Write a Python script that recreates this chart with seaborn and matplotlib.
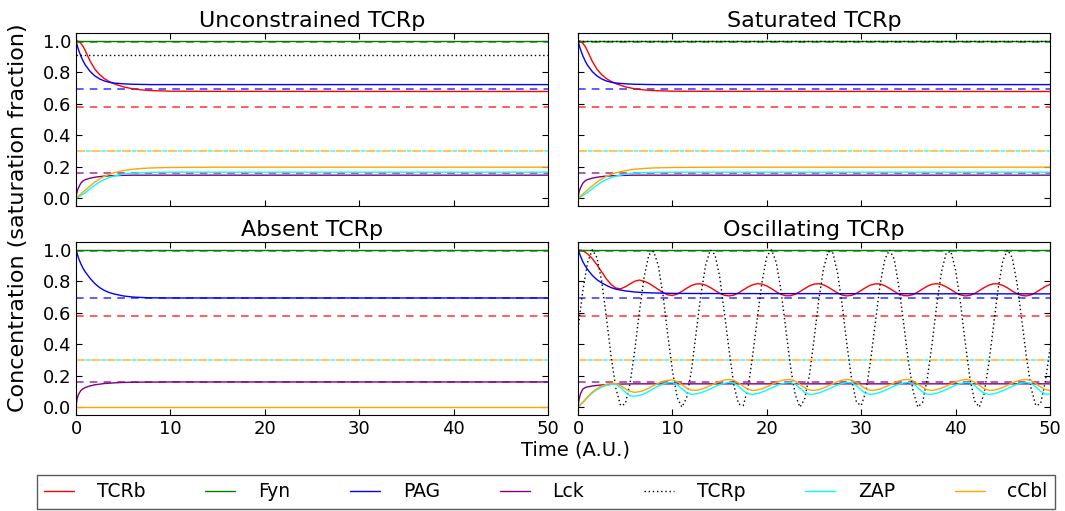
import numpy as np
import pandas as pd
import matplotlib
matplotlib.use("Agg")
import matplotlib.pyplot as plt
import seaborn as sns

species = ["TCRb", "Fyn", "PAG", "Lck", "TCRp", "ZAP", "cCbl"]
colors = {"TCRb": "red", "Fyn": "green", "PAG": "blue", "Lck": "purple",
          "TCRp": "black", "ZAP": "cyan", "cCbl": "orange"}

# steady state levels (dashed reference lines)
steady = {"TCRb": 0.58, "Fyn": 0.99, "PAG": 0.694, "Lck": 0.16, "cCbl": 0.30, "ZAP": 0.30}

# time points for the non-oscillating runs
t_short = [0, 0.1, 0.25, 0.5, 0.75, 1, 1.5, 2, 2.5, 3, 3.5, 4, 5, 6, 7, 8, 10, 15, 50]
ones = [1.0] * len(t_short)
zeros = [0.0] * len(t_short)

# unconstrained / saturated runs
tcrb_free = [1.0, 1.0, 0.997, 0.985, 0.965, 0.935, 0.87, 0.82, 0.785, 0.76, 0.742, 0.728,
             0.708, 0.695, 0.688, 0.684, 0.68, 0.679, 0.678]
pag_free = [1.0, 0.975, 0.945, 0.905, 0.872, 0.845, 0.805, 0.777, 0.758, 0.745, 0.737, 0.732,
            0.727, 0.724, 0.723, 0.722, 0.722, 0.722, 0.722]
lck_free = [0.0, 0.04, 0.065, 0.095, 0.11, 0.118, 0.127, 0.133, 0.137, 0.14, 0.142, 0.143,
            0.145, 0.146, 0.146, 0.146, 0.146, 0.146, 0.146]
zap_free = [0.0, 0.002, 0.007, 0.016, 0.026, 0.036, 0.06, 0.083, 0.103, 0.119, 0.131, 0.14,
            0.153, 0.159, 0.162, 0.164, 0.165, 0.165, 0.165]
ccbl_free = [0.0, 0.004, 0.012, 0.026, 0.039, 0.052, 0.078, 0.102, 0.122, 0.139, 0.151, 0.161,
             0.175, 0.184, 0.189, 0.192, 0.195, 0.197, 0.197]
tcrp_free = [0.91] * len(t_short)

# absent run
pag_abs = [1.0, 0.98, 0.95, 0.912, 0.882, 0.858, 0.818, 0.785, 0.76, 0.742, 0.729, 0.72,
           0.707, 0.70, 0.697, 0.695, 0.694, 0.694, 0.694]
lck_abs = [0.0, 0.05, 0.08, 0.105, 0.117, 0.125, 0.135, 0.142, 0.146, 0.15, 0.152, 0.154,
           0.157, 0.158, 0.159, 0.159, 0.16, 0.16, 0.16]

# oscillating run
t_osc = np.arange(0, 50.5, 0.5)
pag_osc = [1.0, 0.985, 0.96, 0.925, 0.898, 0.875, 0.838, 0.81, 0.79, 0.774, 0.76, 0.75,
           0.739, 0.732, 0.728, 0.726, 0.723, 0.722, 0.72]
lck_osc = [0.0, 0.05, 0.085, 0.115, 0.124, 0.129, 0.134, 0.138, 0.141, 0.143, 0.145, 0.146,
           0.147, 0.148, 0.148, 0.148, 0.148, 0.148, 0.148]
tcrp_osc = [0.50, 0.74, 0.92, 1.00, 0.95, 0.80, 0.57, 0.32, 0.12, 0.01,
            0.02, 0.15, 0.36, 0.61, 0.83, 0.97, 0.99, 0.90, 0.71, 0.46,
            0.23, 0.06, 0.00, 0.06, 0.23, 0.47, 0.71, 0.90, 1.00, 0.97,
            0.83, 0.60, 0.36, 0.14, 0.02, 0.01, 0.12, 0.33, 0.57, 0.80,
            0.96, 1.00, 0.92, 0.74, 0.50, 0.26, 0.08, 0.00, 0.05, 0.20,
            0.43, 0.68, 0.88, 0.99, 0.98, 0.85, 0.64, 0.39, 0.17, 0.03,
            0.01, 0.10, 0.30, 0.54, 0.78, 0.94, 1.00, 0.94, 0.76, 0.53,
            0.29, 0.10, 0.00, 0.03, 0.18, 0.40, 0.65, 0.86, 0.98, 0.99,
            0.87, 0.67, 0.42, 0.19, 0.04, 0.00, 0.08, 0.27, 0.51, 0.75,
            0.93, 1.00, 0.95, 0.79, 0.56, 0.32, 0.12, 0.01, 0.02, 0.16,
            0.37]
tcrb_osc = [1.000, 0.995, 0.975, 0.945, 0.905, 0.860, 0.815, 0.780, 0.757, 0.752,
            0.765, 0.783, 0.800, 0.808, 0.800, 0.787, 0.768, 0.748, 0.728, 0.714,
            0.710, 0.719, 0.736, 0.756, 0.773, 0.783, 0.784, 0.776, 0.761, 0.742,
            0.724, 0.711, 0.707, 0.712, 0.726, 0.745, 0.764, 0.778, 0.785, 0.782,
            0.770, 0.753, 0.733, 0.717, 0.708, 0.708, 0.718, 0.734, 0.753, 0.771,
            0.782, 0.785, 0.778, 0.763, 0.744, 0.726, 0.712, 0.707, 0.711, 0.724,
            0.742, 0.761, 0.777, 0.784, 0.783, 0.772, 0.755, 0.736, 0.719, 0.709,
            0.708, 0.716, 0.732, 0.751, 0.769, 0.781, 0.785, 0.779, 0.765, 0.747,
            0.728, 0.714, 0.707, 0.710, 0.722, 0.740, 0.759, 0.775, 0.784, 0.784,
            0.774, 0.758, 0.738, 0.721, 0.710, 0.707, 0.714, 0.729, 0.748, 0.767,
            0.780]
zap_osc = [0.000, 0.030, 0.062, 0.090, 0.112, 0.128, 0.138, 0.144, 0.145, 0.124,
           0.095, 0.072, 0.069, 0.074, 0.085, 0.101, 0.118, 0.134, 0.147, 0.155,
           0.157, 0.143, 0.117, 0.092, 0.081, 0.084, 0.091, 0.102, 0.116, 0.130,
           0.143, 0.152, 0.157, 0.153, 0.133, 0.105, 0.085, 0.081, 0.086, 0.096,
           0.108, 0.122, 0.136, 0.147, 0.155, 0.157, 0.146, 0.121, 0.094, 0.081,
           0.083, 0.090, 0.101, 0.114, 0.128, 0.141, 0.151, 0.156, 0.155, 0.136,
           0.109, 0.086, 0.081, 0.085, 0.094, 0.106, 0.120, 0.134, 0.146, 0.154,
           0.157, 0.149, 0.124, 0.097, 0.082, 0.082, 0.089, 0.099, 0.112, 0.126,
           0.140, 0.150, 0.156, 0.156, 0.139, 0.112, 0.089, 0.081, 0.084, 0.093,
           0.104, 0.118, 0.132, 0.145, 0.153, 0.157, 0.151, 0.128, 0.101, 0.083,
           0.082]
ccbl_osc = [0.000, 0.030, 0.065, 0.095, 0.118, 0.134, 0.145, 0.150, 0.150, 0.137,
            0.117, 0.100, 0.094, 0.098, 0.107, 0.121, 0.137, 0.152, 0.164, 0.171,
            0.173, 0.162, 0.142, 0.121, 0.108, 0.107, 0.113, 0.123, 0.137, 0.151,
            0.163, 0.172, 0.176, 0.171, 0.154, 0.132, 0.114, 0.106, 0.109, 0.117,
            0.129, 0.143, 0.157, 0.168, 0.175, 0.175, 0.165, 0.145, 0.123, 0.109,
            0.106, 0.111, 0.121, 0.135, 0.149, 0.162, 0.171, 0.176, 0.172, 0.157,
            0.135, 0.116, 0.106, 0.108, 0.115, 0.127, 0.141, 0.155, 0.167, 0.174,
            0.176, 0.167, 0.147, 0.126, 0.110, 0.106, 0.111, 0.120, 0.133, 0.147,
            0.160, 0.170, 0.176, 0.173, 0.159, 0.138, 0.118, 0.107, 0.107, 0.114,
            0.125, 0.139, 0.153, 0.165, 0.173, 0.176, 0.169, 0.150, 0.128, 0.111,
            0.106]

# None = series hidden under another line in that run
panels = {
    "Unconstrained TCRp": {"TCRb": (t_short, tcrb_free), "Fyn": (t_short, ones),
                           "PAG": (t_short, pag_free), "Lck": (t_short, lck_free),
                           "TCRp": (t_short, tcrp_free), "ZAP": (t_short, zap_free),
                           "cCbl": (t_short, ccbl_free)},
    "Saturated TCRp": {"TCRb": (t_short, tcrb_free), "Fyn": (t_short, ones),
                       "PAG": (t_short, pag_free), "Lck": (t_short, lck_free),
                       "TCRp": (t_short, ones), "ZAP": (t_short, zap_free),
                       "cCbl": (t_short, ccbl_free)},
    "Absent TCRp": {"TCRb": None, "Fyn": (t_short, ones),
                    "PAG": (t_short, pag_abs), "Lck": (t_short, lck_abs),
                    "TCRp": None, "ZAP": None,
                    "cCbl": (t_short, zeros)},
    "Oscillating TCRp": {"TCRb": (t_osc, tcrb_osc), "Fyn": (t_short, ones),
                         "PAG": (t_short, pag_osc), "Lck": (t_short, lck_osc),
                         "TCRp": (t_osc, tcrp_osc), "ZAP": (t_osc, zap_osc),
                         "cCbl": (t_osc, ccbl_osc)},
}

ref_styles = {"TCRb": (0, (5, 4)), "Fyn": (0, (5, 4)), "PAG": (0, (5, 4)),
              "Lck": (0, (5, 4)), "cCbl": (0, (6, 4)), "ZAP": (3.5, (3, 7))}

sns.set_style("ticks", {"xtick.direction": "in", "ytick.direction": "in",
                        "axes.edgecolor": "black", "text.color": "black",
                        "xtick.color": "black", "ytick.color": "black",
                        "axes.labelcolor": "black"})
plt.rcParams["font.family"] = ["DejaVu Sans"]

fig, axes = plt.subplots(2, 2, figsize=(10.65, 5.11), dpi=100, sharex=True, sharey=True)
fig.subplots_adjust(left=0.0714, right=0.9859, top=0.9354, bottom=0.1879,
                    wspace=0.064, hspace=0.208)

for ax, (title, series) in zip(axes.flat, panels.items()):
    for name, level in steady.items():
        ax.axhline(level, color=colors[name], ls=ref_styles[name], lw=1.1,
                   alpha=0.8, zorder=1)
    for name in species:
        if series[name] is None:
            continue
        t, v = series[name]
        sns.lineplot(x=t, y=v, ax=ax, color=colors[name], linewidth=1,
                     linestyle=(0, (1, 2)) if name == "TCRp" else "-",
                     label=name, legend=False, zorder=2)
    ax.set_title(title, fontsize=16, pad=4)
    ax.set_xlim(0, 50)
    ax.set_ylim(-0.05, 1.05)
    ax.set_xticks([0, 10, 20, 30, 40, 50])
    ax.set_yticks([0.0, 0.2, 0.4, 0.6, 0.8, 1.0])
    ax.yaxis.set_major_formatter(matplotlib.ticker.FormatStrFormatter("%.1f"))
    ax.tick_params(top=True, right=True, labelsize=13, length=4)
    ax.set_xlabel("")
    ax.set_ylabel("")
    if ax.get_legend():
        ax.get_legend().remove()

fig.text(0.017, 0.574, "Concentration (saturation fraction)", rotation=90,
         ha="center", va="center", fontsize=16)
fig.text(0.54, 0.119, "Time (A.U.)", ha="center", va="center", fontsize=14)

handles, labels = axes[0, 0].get_legend_handles_labels()
leg = fig.legend(handles[:7], labels[:7], loc="upper left",
                 bbox_to_anchor=(0.0347, -0.2, 0.956, 0.2705), mode="expand",
                 ncol=7, borderaxespad=0, fancybox=False, edgecolor="0.35",
                 fontsize=13.5, handlelength=1.6, handletextpad=1.2, framealpha=1)

fig.savefig("out.png", dpi=100)
